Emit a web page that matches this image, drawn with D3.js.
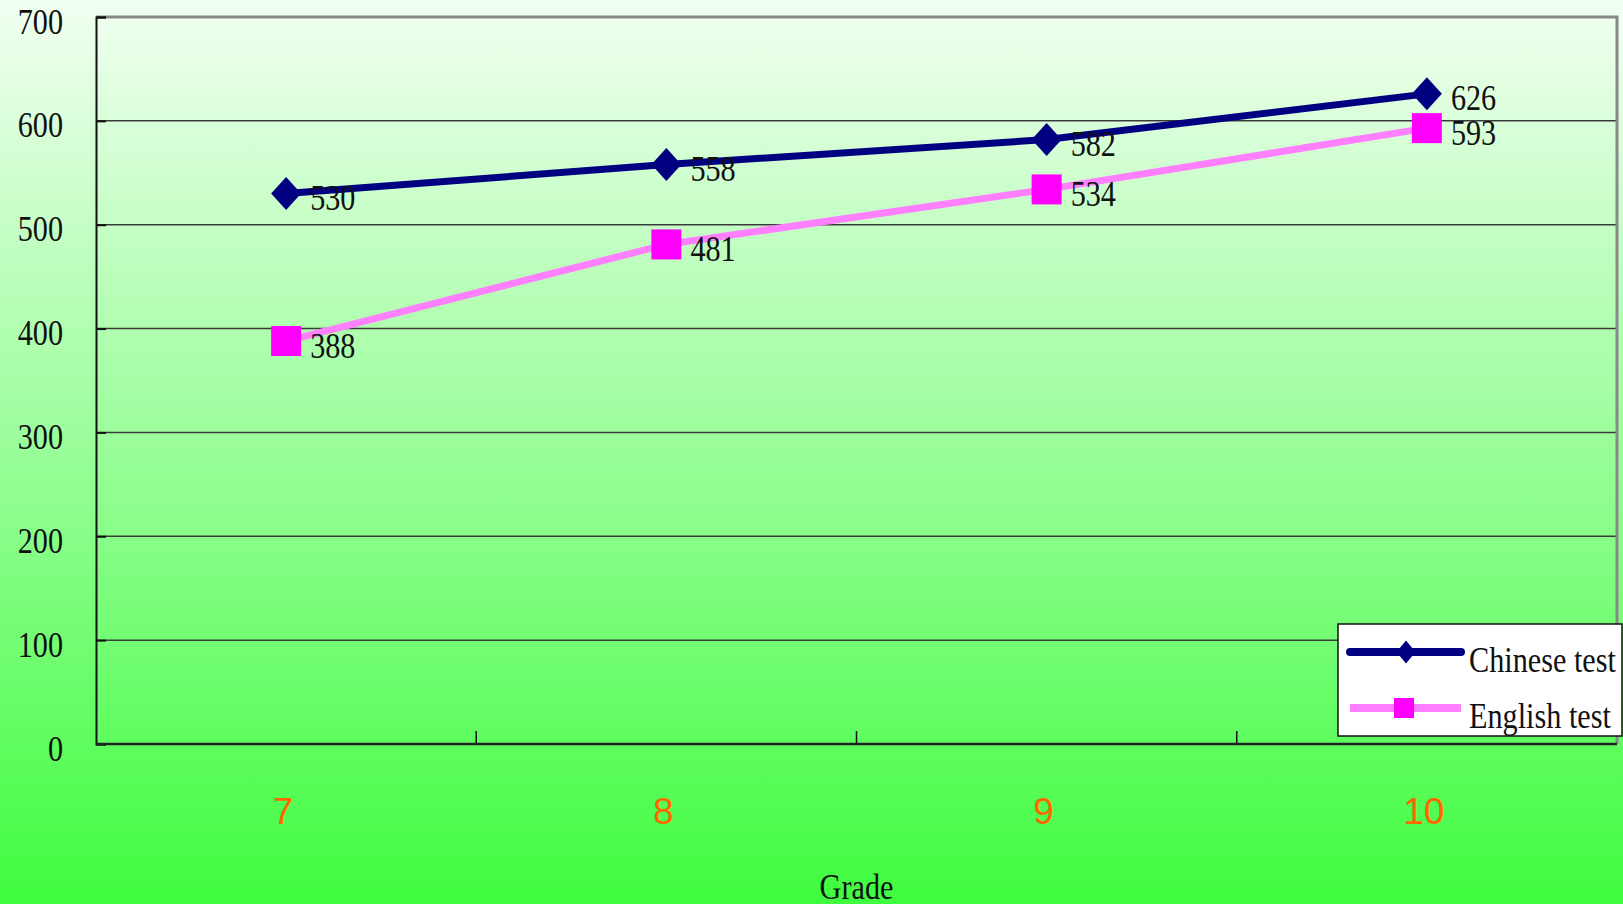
<!DOCTYPE html>
<html>
<head>
<meta charset="utf-8">
<script src="https://cdn.jsdelivr.net/npm/d3@7"></script>
<style>
  html, body { margin: 0; padding: 0; overflow: hidden; }
  svg { display: block; }
</style>
</head>
<body>
<script>
// Average test scores by grade
const grades = ["7", "8", "9", "10"];
const chineseScores = [530, 558, 582, 626];
const englishScores = [388, 481, 534, 593];
const yTicks = [0, 100, 200, 300, 400, 500, 600, 700];
const seriesNames = ["Chinese test", "English test"];
const xTitle = "Grade";

const W = 1623, H = 904;
const plot = { left: 96, right: 1617, top: 17, bottom: 744 };

const svg = d3.select("body").append("svg")
  .attr("width", W).attr("height", H);

// green background gradient
const defs = svg.append("defs");
const grad = defs.append("linearGradient")
  .attr("id", "bg").attr("x1", 0).attr("y1", 0).attr("x2", 0).attr("y2", 1);
grad.append("stop").attr("offset", "0%").attr("stop-color", "#f2fff2");
grad.append("stop").attr("offset", "100%").attr("stop-color", "#3ffc3f");
svg.append("rect").attr("width", W).attr("height", H).attr("fill", "url(#bg)");

const x = d3.scaleBand().domain(grades).range([plot.left, plot.right]);
const y = d3.scaleLinear().domain([0, 700]).range([plot.bottom, plot.top]);

const SERIF = "'Liberation Serif', 'Times New Roman', serif";
// narrow serif text, drawn with a horizontal squeeze
function serifText(parent, tx, ty, str, anchor, size) {
  return parent.append("g")
    .attr("transform", `translate(${tx},${ty}) scale(0.84,1)`)
    .append("text")
    .attr("font-family", SERIF)
    .attr("font-size", size || 36)
    .attr("fill", "#111")
    .attr("text-anchor", anchor || "start")
    .text(str);
}

// horizontal gridlines
svg.append("g").selectAll("line")
  .data(yTicks.filter(v => v > 0 && v < 700))
  .join("line")
  .attr("x1", plot.left).attr("x2", plot.right)
  .attr("y1", d => y(d)).attr("y2", d => y(d))
  .attr("stroke", "#3a3a3a").attr("stroke-width", 1.5);

// top and right frame
svg.append("path")
  .attr("d", `M${plot.left},${plot.top}H${plot.right}V${plot.bottom}`)
  .attr("fill", "none").attr("stroke", "#888").attr("stroke-width", 3);

// y axis
const yAxis = svg.append("g").attr("transform", `translate(${plot.left},0)`)
  .call(d3.axisRight(y).tickValues(yTicks).tickSize(10).tickFormat(""));
yAxis.select(".domain").attr("stroke", "#111").attr("stroke-width", 2);
yAxis.selectAll(".tick line").attr("stroke", "#111").attr("stroke-width", 2);
yTicks.forEach(v => serifText(svg, 63, y(v) + 16.5, String(v), "end"));

// x axis with inward ticks at category boundaries
const xAxisG = svg.append("g").attr("transform", `translate(0,${plot.bottom})`);
xAxisG.append("line")
  .attr("x1", plot.left).attr("x2", plot.right)
  .attr("stroke", "#222").attr("stroke-width", 2.5);
xAxisG.selectAll(".bt")
  .data(grades.slice(1))
  .join("line")
  .attr("class", "bt")
  .attr("x1", d => x(d)).attr("x2", d => x(d))
  .attr("y1", 0).attr("y2", -13)
  .attr("stroke", "#111").attr("stroke-width", 1.5);
xAxisG.selectAll(".cl")
  .data(grades)
  .join("text")
  .attr("class", "cl")
  .attr("x", d => x(d) + x.bandwidth() / 2 - 3)
  .attr("y", 824 - plot.bottom)
  .attr("text-anchor", "middle")
  .attr("font-family", "'Liberation Sans', Arial, sans-serif")
  .attr("font-size", 37)
  .attr("fill", "#ff6600")
  .text(d => d);

serifText(svg, (plot.left + plot.right) / 2, 899, xTitle, "middle");

const cx = d => x(d) + x.bandwidth() / 2;
const line = d3.line();

// English series
const engPts = grades.map((g, i) => [cx(g), y(englishScores[i])]);
svg.append("path").attr("d", line(engPts))
  .attr("fill", "none").attr("stroke", "#ff80ff").attr("stroke-width", 7);

// Chinese series
const chiPts = grades.map((g, i) => [cx(g), y(chineseScores[i])]);
svg.append("path").attr("d", line(chiPts))
  .attr("fill", "none").attr("stroke", "#000080").attr("stroke-width", 7);

// markers
const sq = 30;
svg.append("g").selectAll("rect")
  .data(engPts).join("rect")
  .attr("x", d => d[0] - sq / 2).attr("y", d => d[1] - sq / 2)
  .attr("width", sq).attr("height", sq).attr("fill", "#ff00ff");

const diamond = (w, h) => `M0,${-h / 2}L${w / 2},0L0,${h / 2}L${-w / 2},0Z`;
svg.append("g").selectAll("path")
  .data(chiPts).join("path")
  .attr("transform", d => `translate(${d[0]},${d[1]})`)
  .attr("d", diamond(30, 33)).attr("fill", "#000080");

// value labels
grades.forEach((g, i) => {
  serifText(svg, cx(g) + 24, y(chineseScores[i]) + 16.5, String(chineseScores[i]));
  serifText(svg, cx(g) + 24, y(englishScores[i]) + 16.5, String(englishScores[i]));
});

// legend
const lg = svg.append("g");
lg.append("rect")
  .attr("x", 1338).attr("y", 624).attr("width", 284).attr("height", 112)
  .attr("fill", "#fff").attr("stroke", "#111").attr("stroke-width", 1.5);
const legendRows = [
  { name: seriesNames[0], color: "#000080", y: 652 },
  { name: seriesNames[1], color: "#ff80ff", y: 708 }
];
legendRows.forEach((r, i) => {
  lg.append("line")
    .attr("x1", 1350).attr("x2", 1461).attr("y1", r.y).attr("y2", r.y)
    .attr("stroke", r.color).attr("stroke-width", 8)
    .attr("stroke-linecap", i === 0 ? "round" : "butt");
  if (i === 0) {
    lg.append("path").attr("transform", `translate(1406,${r.y})`)
      .attr("d", diamond(19, 23)).attr("fill", "#000080");
  } else {
    lg.append("rect").attr("x", 1394).attr("y", r.y - 10)
      .attr("width", 20).attr("height", 20).attr("fill", "#ff00ff");
  }
  serifText(lg, 1469, r.y + 20, r.name);
});
</script>
</body>
</html>
